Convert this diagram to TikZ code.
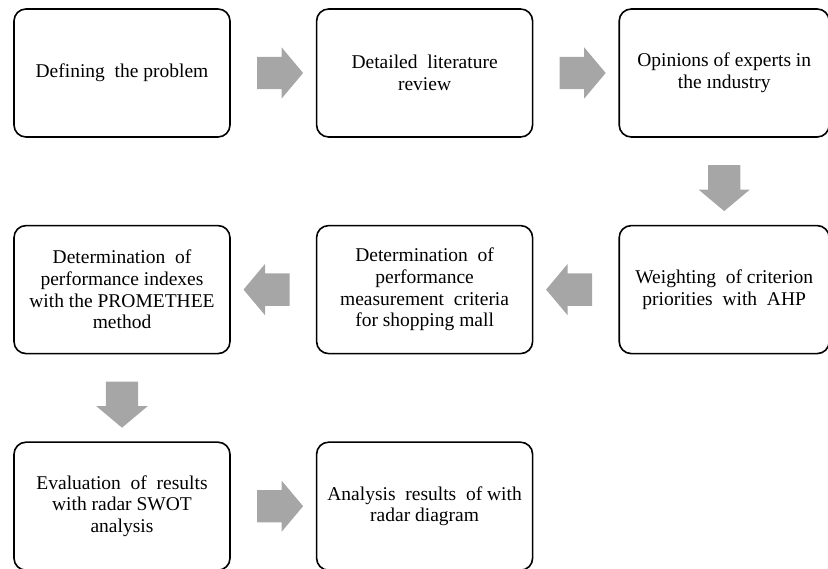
\documentclass[tikz,border=0pt]{standalone}
\usepackage{fontspec}
\setmainfont{Liberation Serif}
\usepackage{tikz}
\usetikzlibrary{shapes.arrows, positioning, calc}
\definecolor{arrgrey}{HTML}{A6A6A6}
\tikzset{
  stepbox/.style={rectangle, draw, line width=1.6pt, rounded corners=12pt,
    minimum width=216pt, minimum height=128pt, align=center,
    font=\fontsize{19.5}{21.7}\selectfont, inner sep=3pt},
  flowarr/.style={single arrow, fill=arrgrey, draw=none, inner sep=16pt,
    minimum height=45pt, single arrow head extend=9.5pt,
    single arrow tip angle=100},
}

\begin{document}
\begin{tikzpicture}[x=1pt, y=-1pt]
  \useasboundingbox (0,0) rectangle (828,569);
  % Top row
  \node[stepbox] (prob) at (122,73) {Defining \ the problem};
  \node[stepbox, right=85pt of prob] (lit) {Detailed \ literature\\review};
  \node[stepbox, right=85pt of lit, minimum width=210pt] (expert) {Opinions of experts in\\the ındustry};

  % Middle row
  \node[stepbox, below=87pt of expert, minimum width=210pt] (ahp) {Weighting \ of criterion\\priorities \ with \ AHP};
  \node[stepbox, below=87pt of lit] (crit) {Determination \ of\\performance\\measurement \ criteria\\for shopping mall};
  \node[stepbox, below=87pt of prob] (prom) {Determination \ of\\performance indexes\\with the PROMETHEE\\method};

  % Bottom row
  \node[stepbox, below=87pt of prom] (swot) {Evaluation \ of \ results\\with radar SWOT\\analysis};
  \node[stepbox, right=85pt of swot] (radar) {Analysis \ results \ of with\\radar diagram};

  % Block arrows
  \node[flowarr] (a1) at ($(prob.east)!0.5!(lit.west)$) {};
  \node[flowarr] (a2) at ($(lit.east)!0.5!(expert.west)$) {};
  \node[flowarr, rotate=-90] (a3) at ($(expert.south)!0.5!(ahp.north)$) {};
  \node[flowarr, rotate=180] (a4) at ($(ahp.west)!0.5!(crit.east)$) {};
  \node[flowarr, rotate=180] (a5) at ($(crit.west)!0.5!(prom.east)$) {};
  \node[flowarr, rotate=-90] (a6) at ($(prom.south)!0.5!(swot.north)$) {};
  \node[flowarr] (a7) at ($(swot.east)!0.5!(radar.west)$) {};
\end{tikzpicture}
\end{document}
